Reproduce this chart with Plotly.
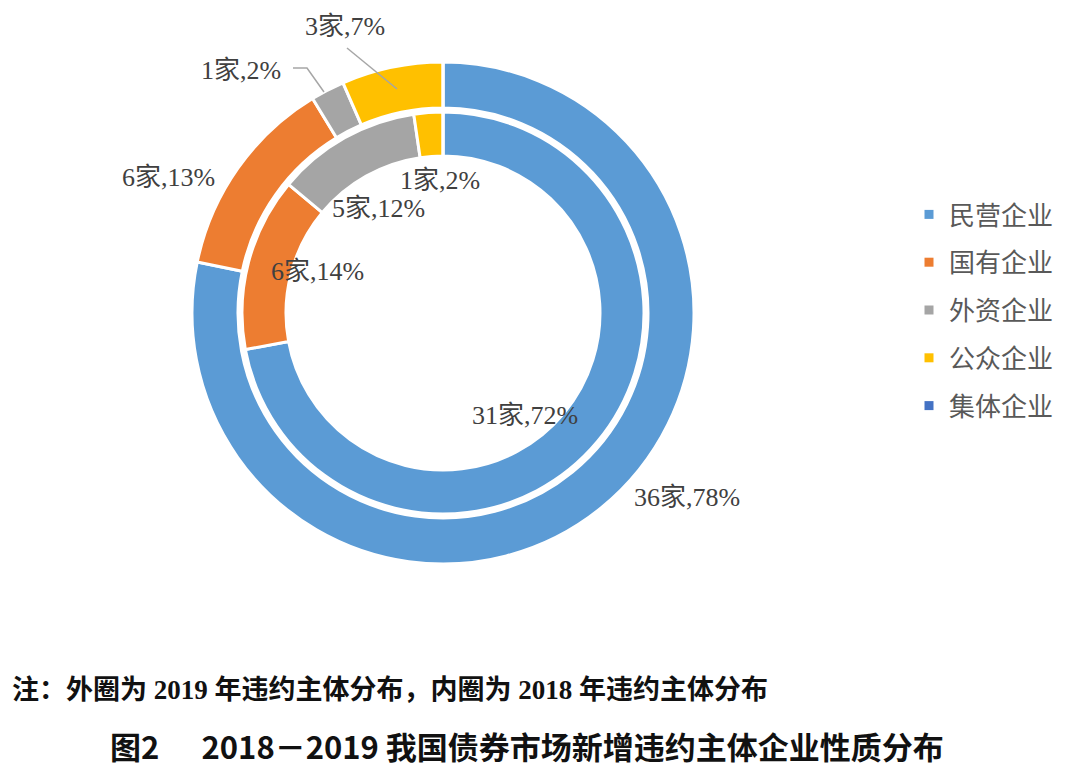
import plotly.graph_objects as go

# ---------------- data ----------------
categories = ["民营企业", "国有企业", "外资企业", "公众企业", "集体企业"]
counts_2019 = [36, 6, 1, 3, 0]   # outer ring
counts_2018 = [31, 6, 5, 1, 0]   # inner ring
colors = ["#5B9BD5", "#ED7D31", "#A5A5A5", "#FFC000", "#4472C4"]

note_text = "注：外圈为 2019 年违约主体分布，内圈为 2018 年违约主体分布"
title_text = "图2\u00a0\u00a0\u00a0\u00a0\u00a0\u00a02018－2019 我国债券市场新增违约主体企业性质分布"

# ---------------- layout helpers (pixels -> paper) ----------------
W, H = 1080, 777
OFF = 8  # page body margin
def px(x):
    return (x - OFF) / W
def py(y):
    return 1 - (y - OFF) / H

CX, CY = 443, 313
R_OUT, R_OUT_IN = 251, 205
R_IN, R_IN_IN = 201, 157

def domain(r):
    return dict(x=[px(CX - r), px(CX + r)], y=[py(CY + r), py(CY - r)])

fig = go.Figure()

fig.add_trace(go.Pie(
    labels=categories, values=counts_2019, sort=False, direction="clockwise",
    rotation=0, hole=R_OUT_IN / R_OUT, domain=domain(R_OUT),
    marker=dict(colors=colors, line=dict(color="white", width=3)),
    textinfo="none", showlegend=False, name="2019",
))
fig.add_trace(go.Pie(
    labels=categories, values=counts_2018, sort=False, direction="clockwise",
    rotation=0, hole=R_IN_IN / R_IN, domain=domain(R_IN),
    marker=dict(colors=colors, line=dict(color="white", width=3)),
    textinfo="none", showlegend=False, name="2018",
))

# legend entries
for i, (c, col) in enumerate(zip(categories, colors)):
    fig.add_trace(go.Scatter(
        x=[None], y=[None], mode="markers", name=c, legendgroup=str(i),
        marker=dict(symbol="square", size=9, color=col),
        showlegend=True, hoverinfo="skip",
    ))

# data labels
label_font = dict(family="Liberation Serif, Noto Sans CJK SC", size=26, color="#404040")
outer_pos = [(687, 497), (168, 178), (241, 70), (345, 27)]
inner_pos = [(525, 415), (317, 271), (378, 208), (440, 181)]

def labels_for(counts, positions):
    total = sum(counts)
    k = 0
    for n in counts:
        if n <= 0:
            continue
        pct = round(n / total * 100)
        x, y = positions[k]
        k += 1
        fig.add_annotation(x=px(x), y=py(y), xref="paper", yref="paper",
                           text=f"{n}家,{pct}%", showarrow=False,
                           font=label_font, xanchor="center", yanchor="middle")

labels_for(counts_2019, outer_pos)
labels_for(counts_2018, inner_pos)

# leader lines
def path(points):
    return "M " + " L ".join(f"{px(x)},{py(y)}" for x, y in points)

fig.add_shape(type="path", xref="paper", yref="paper",
              path=path([(293, 68), (307, 68), (324, 92)]),
              line=dict(color="#A6A6A6", width=1.5))
fig.add_shape(type="path", xref="paper", yref="paper",
              path=path([(347, 48), (397, 89)]),
              line=dict(color="#A6A6A6", width=1.5))

# note and title
fig.add_annotation(x=px(10), y=py(690), xref="paper", yref="paper",
                   text=f"<b>{note_text}</b>", showarrow=False,
                   xanchor="left", yanchor="middle",
                   font=dict(family="Liberation Serif, Noto Sans CJK SC", size=27, color="#111111"))
fig.add_annotation(x=px(527), y=py(745), xref="paper", yref="paper",
                   text=f"<b>{title_text}</b>", showarrow=False,
                   xanchor="center", yanchor="middle",
                   font=dict(family="Noto Sans CJK SC", size=31, color="#111111"))

fig.update_layout(
    width=W, height=H,
    margin=dict(l=0, r=0, t=0, b=0),
    paper_bgcolor="white", plot_bgcolor="white",
    xaxis=dict(visible=False), yaxis=dict(visible=False),
    legend=dict(x=px(909), y=py(191), xanchor="left", yanchor="top",
                traceorder="grouped", tracegroupgap=11,
                font=dict(family="Noto Sans CJK SC", size=26, color="#595959"),
                bgcolor="rgba(0,0,0,0)"),
)

fig.write_html("out.html")
